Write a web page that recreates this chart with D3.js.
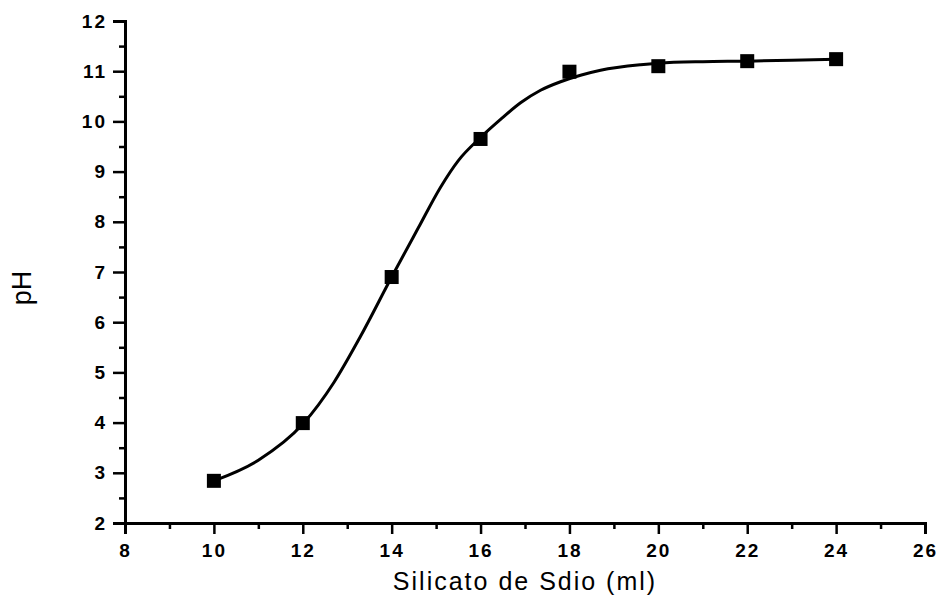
<!DOCTYPE html>
<html>
<head>
<meta charset="utf-8">
<script src="https://cdn.jsdelivr.net/npm/d3@7"></script>
<style>
  body { margin: 0; background: #fff; }
  svg text { font-family: "Liberation Sans", Arial, sans-serif; fill: #000; }
</style>
</head>
<body>
<div id="chart"></div>
<script>
// measured points
var volumes = [10, 12, 14, 16, 18, 20, 22, 24];
var phValues = [2.84, 3.99, 6.9, 9.65, 10.99, 11.1, 11.2, 11.24];

// fitted curve
var curveX = [10, 11, 12, 12.7, 13.3, 14, 14.6, 15.1, 15.5, 16, 16.45, 16.9, 17.35, 17.8, 18.25, 18.7, 19.6, 20, 21, 22, 23, 24];
var curveY = [2.84, 3.25, 3.97, 4.8, 5.72, 6.9, 7.88, 8.69, 9.22, 9.68, 10.04, 10.37, 10.62, 10.79, 10.92, 11.02, 11.13, 11.16, 11.19, 11.2, 11.22, 11.24];

var xTicks = [8, 10, 12, 14, 16, 18, 20, 22, 24, 26];
var xMinor = [9, 11, 13, 15, 17, 19, 21, 23, 25];
var yTicks = [2, 3, 4, 5, 6, 7, 8, 9, 10, 11, 12];
var yMinor = [2.5, 3.5, 4.5, 5.5, 6.5, 7.5, 8.5, 9.5, 10.5, 11.5];

var width = 940,
    height = 610,
    margin = {top: 21, right: 15, bottom: 87, left: 125};

var xScale = d3.scaleLinear()
    .domain([8, 26])
    .range([margin.left, width - margin.right]);

var yScale = d3.scaleLinear()
    .domain([2, 12])
    .range([height - margin.bottom, margin.top]);

var svg = d3.select("#chart")
    .append("svg")
    .attr("width", width)
    .attr("height", height);

// axes
svg.append("g")
    .attr("transform", "translate(" + margin.left + ",0)")
    .call(d3.axisLeft(yScale).tickValues(yTicks).tickSize(12).tickPadding(6).tickFormat(d3.format("d")));

svg.append("g")
    .attr("transform", "translate(" + margin.left + ",0)")
    .call(d3.axisLeft(yScale).tickValues(yMinor).tickSize(6).tickFormat(""))
    .select(".domain").remove();

svg.append("g")
    .attr("transform", "translate(0," + (height - margin.bottom) + ")")
    .call(d3.axisBottom(xScale).tickValues(xTicks).tickSize(11).tickPadding(10).tickFormat(d3.format("d")));

svg.append("g")
    .attr("transform", "translate(0," + (height - margin.bottom) + ")")
    .call(d3.axisBottom(xScale).tickValues(xMinor).tickSize(6).tickFormat(""))
    .select(".domain").remove();

svg.selectAll(".domain")
    .attr("stroke", "#000")
    .attr("stroke-width", 3);

svg.selectAll(".tick line")
    .attr("stroke", "#000")
    .attr("stroke-width", 2.5);

svg.selectAll(".tick text")
    .style("font-size", "19px")
    .style("font-weight", "bold")
    .style("letter-spacing", "2px");

// axis titles
svg.append("text")
    .attr("x", (margin.left + width - margin.right) / 2)
    .attr("y", 590)
    .attr("text-anchor", "middle")
    .style("font-size", "25px")
    .style("letter-spacing", "2px")
    .text("Silicato de Sdio (ml)");

svg.append("text")
    .attr("transform", "translate(31,288) rotate(-90)")
    .attr("text-anchor", "middle")
    .style("font-size", "27px")
    .text("pH");

// fitted curve
var line = d3.line()
    .x(function(d) { return xScale(d[0]); })
    .y(function(d) { return yScale(d[1]); })
    .curve(d3.curveMonotoneX);

svg.append("path")
    .datum(d3.zip(curveX, curveY))
    .attr("fill", "none")
    .attr("stroke", "#000")
    .attr("stroke-width", 3)
    .attr("d", line);

// markers
var size = 14;
svg.selectAll(".marker")
    .data(d3.zip(volumes, phValues))
    .enter()
    .append("rect")
    .attr("class", "marker")
    .attr("x", function(d) { return xScale(d[0]) - size / 2; })
    .attr("y", function(d) { return yScale(d[1]) - size / 2; })
    .attr("width", size)
    .attr("height", size)
    .attr("fill", "#000");
</script>
</body>
</html>
